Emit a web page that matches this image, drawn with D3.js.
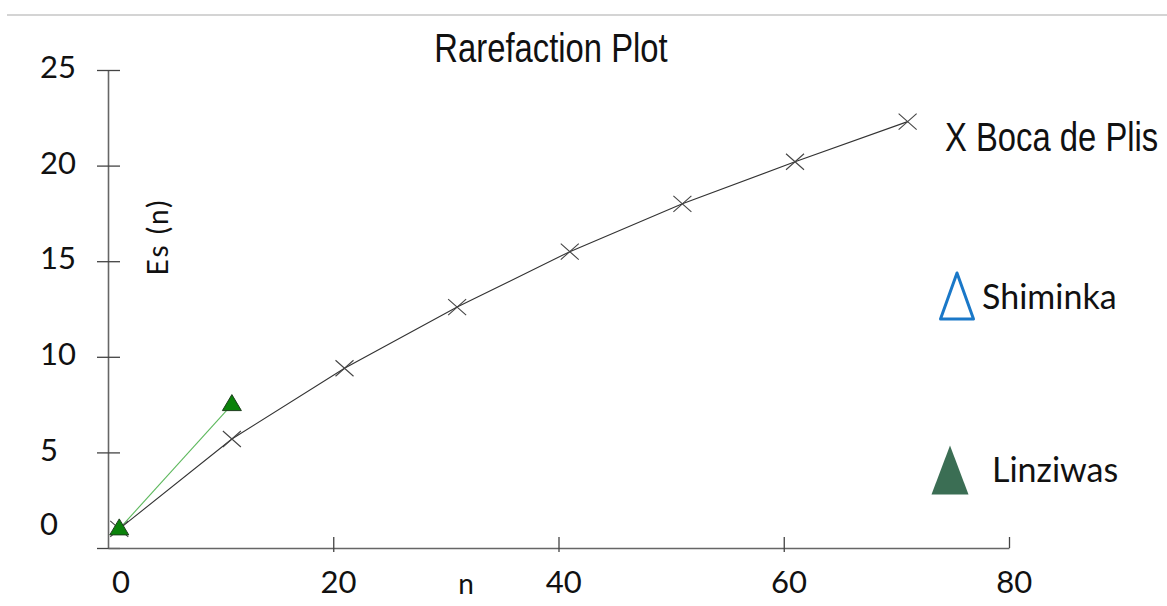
<!DOCTYPE html>
<html>
<head>
  <meta charset="utf-8">
  <title>Rarefaction Plot</title>
  <script src="https://d3js.org/d3.v7.min.js"></script>
  <style>
    body { margin: 0; background: #fff; }
    .tick text { font-family: Lato, "Noto Sans", sans-serif; font-size: 31px; fill: #111; }
    .lab { font-family: Lato, "Noto Sans", sans-serif; fill: #111; }
    .arial { font-family: "Liberation Sans", Arial, sans-serif; fill: #111; }
  </style>
</head>
<body>
  <svg id="chart"></svg>
  <script>
    // Dữ liệu
    const bocaN = [1, 11, 21, 31, 41, 51, 61, 71];
    const bocaEs = [1, 5.7, 9.4, 12.6, 15.5, 18.0, 20.2, 22.3];
    const linzN = [1, 11];
    const linzEs = [1, 7.5];
    const shimN = [];
    const shimEs = [];
    const xTicks = [0, 20, 40, 60, 80];
    const yTicks = [0, 5, 10, 15, 20, 25];
    const legendNames = ["X Boca de Plis", "Shiminka", "Linziwas"];

    const W = 1167, H = 606;
    const svg = d3.select("#chart").attr("width", W).attr("height", H);

    // đường kẻ xám trên cùng
    svg.append("line")
      .attr("x1", 7).attr("x2", W).attr("y1", 15).attr("y2", 15)
      .attr("stroke", "#c6c6c6").attr("stroke-width", 1.5);

    const x = d3.scaleLinear().domain([0, 80]).range([108, 1009]);
    const y = d3.scaleLinear().domain([0, 25]).range([548, 70]);

    // trục y
    const gy = svg.append("g")
      .attr("transform", `translate(${x(0)},0)`)
      .call(d3.axisLeft(y).tickValues(yTicks).tickSize(0).tickPadding(0));
    gy.select(".domain").attr("stroke", "#666").attr("stroke-width", 1.6);
    gy.selectAll(".tick line").attr("x1", -11).attr("x2", 12).attr("stroke", "#444").attr("stroke-width", 1.3);
    gy.selectAll(".tick text")
      .attr("text-anchor", "start").attr("x", 40 - x(0))
      .attr("dy", d => d === 0 ? "-0.45em" : "0.25em");

    // trục x
    const gx = svg.append("g")
      .attr("transform", `translate(0,${y(0)})`)
      .call(d3.axisBottom(x).tickValues(xTicks).tickSize(0).tickPadding(0));
    gx.select(".domain").attr("stroke", "#666").attr("stroke-width", 1.6);
    gx.selectAll(".tick line")
      .attr("y1", d => d === 80 ? 0 : 4).attr("y2", -11)
      .attr("stroke", "#444").attr("stroke-width", 1.3)
      .style("display", d => d === 0 ? "none" : null);
    gx.selectAll(".tick text").attr("y", 23).attr("dx", d => d === 0 ? "0.4em" : "0.15em");

    // tiêu đề và nhãn trục (chữ Arial bị ép hẹp như hình gốc)
    svg.append("text").attr("class", "arial")
      .attr("transform", "translate(551,62) scale(0.82,1)")
      .attr("text-anchor", "middle")
      .style("font-size", "40px").text("Rarefaction Plot");
    svg.append("text").attr("class", "lab")
      .attr("transform", "translate(168,237) rotate(-90)")
      .attr("text-anchor", "middle").style("font-size", "28px")
      .style("letter-spacing", "2px").text("Es (n)");
    svg.append("text").attr("class", "lab")
      .attr("x", 466).attr("y", 594).attr("text-anchor", "middle")
      .style("font-size", "28px").text("n");

    const boca = bocaN.map((n, i) => ({ n: n, v: bocaEs[i] }));
    const linz = linzN.map((n, i) => ({ n: n, v: linzEs[i] }));
    const shim = shimN.map((n, i) => ({ n: n, v: shimEs[i] }));

    const line = d3.line().x(d => x(d.n)).y(d => y(d.v));

    svg.append("path").datum(boca).attr("d", line)
      .attr("fill", "none").attr("stroke", "#333").attr("stroke-width", 1.1);
    svg.append("path").datum(linz).attr("d", line)
      .attr("fill", "none").attr("stroke", "#5cb85c").attr("stroke-width", 1.1);

    // dấu X
    svg.selectAll(".cross").data(boca).enter().append("path")
      .attr("class", "cross")
      .attr("transform", d => `translate(${x(d.n)},${y(d.v)})`)
      .attr("d", "M-9,-8L9,8M-9,8L9,-8")
      .attr("stroke", "#444").attr("stroke-width", 1.1).attr("fill", "none");

    const tri = (w, h) => `M0,${-h / 2}L${w / 2},${h / 2}L${-w / 2},${h / 2}Z`;

    svg.selectAll(".shim").data(shim).enter().append("path")
      .attr("class", "shim")
      .attr("transform", d => `translate(${x(d.n)},${y(d.v)})`)
      .attr("d", tri(18, 16)).attr("fill", "none").attr("stroke", "#1a78c8");

    svg.selectAll(".linz").data(linz).enter().append("path")
      .attr("class", "linz")
      .attr("transform", d => `translate(${x(d.n)},${y(d.v) - 2})`)
      .attr("d", tri(19, 16))
      .attr("fill", "#0a820a").attr("stroke", "#1d3d1d").attr("stroke-width", 1);

    // chú giải
    svg.append("text").attr("class", "arial")
      .attr("transform", "translate(945,151) scale(0.82,1)")
      .style("font-size", "40px").text(legendNames[0]);

    svg.append("path").attr("transform", "translate(957,296)")
      .attr("d", tri(33, 46)).attr("fill", "none")
      .attr("stroke", "#1a78c8").attr("stroke-width", 3).attr("stroke-linejoin", "round");
    svg.append("text").attr("class", "lab")
      .attr("x", 982).attr("y", 309).style("font-size", "34px").text(legendNames[1]);

    svg.append("path").attr("transform", "translate(950,470)")
      .attr("d", tri(37, 49)).attr("fill", "#3b6e54");
    svg.append("text").attr("class", "lab")
      .attr("x", 992).attr("y", 482).style("font-size", "34px").text(legendNames[2]);
  </script>
</body>
</html>
